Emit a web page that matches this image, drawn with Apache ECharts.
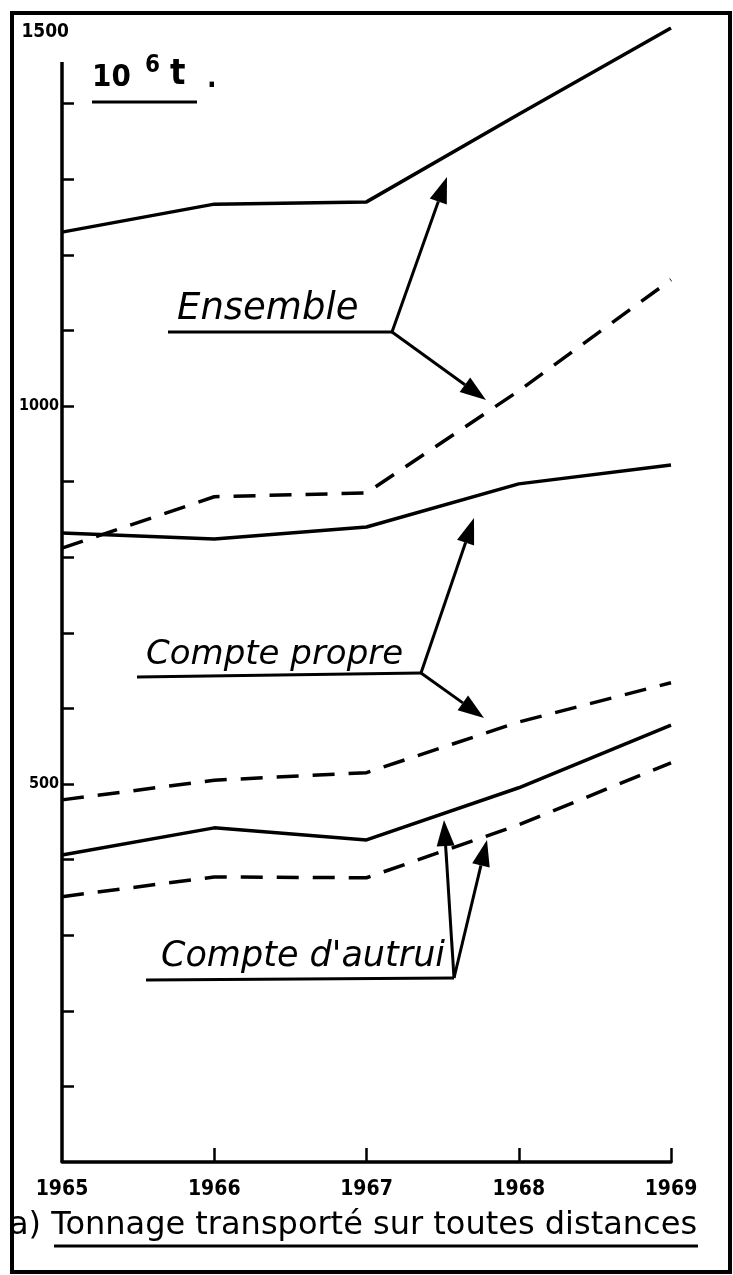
<!DOCTYPE html>
<html lang="fr">
<head>
    <meta charset="UTF-8">
    <title>Tonnage transporté sur toutes distances</title>
    <style>
        html, body { margin: 0; padding: 0; background: #fff; }
        #main { width: 733px; height: 1275px; }
    </style>
</head>
<body>
    <div id="main"></div>

    <script src="https://cdn.jsdelivr.net/npm/echarts@6.0.0/dist/echarts.min.js"></script>
    <script type="text/javascript">
        // données (10^6 t)
        var years = ['1965', '1966', '1967', '1968', '1969'];
        var ensembleSolid  = [1230, 1267, 1270, 1386, 1500];
        var ensembleDashed = [812, 880, 885, 1020, 1167];
        var propreSolid    = [832, 824, 840, 897, 922];
        var propreDashed   = [479, 505, 515, 582, 634];
        var autruiSolid    = [406, 442, 426, 495, 578];
        var autruiDashed   = [351, 377, 376, 446, 528];

        var yTicks  = [100, 200, 300, 400, 500, 600, 700, 800, 900, 1000, 1100, 1200, 1300, 1400];
        var yLabels = [500, 1000, 1500];

        var ink = '#000';
        var narrow = "'DejaVu Sans Condensed', 'DejaVu Sans', sans-serif";
        var hand = "'DejaVu Sans', sans-serif";

        // petite flèche pleine pour les annotations
        function arrow(x1, y1, x2, y2) {
            var a = Math.atan2(y2 - y1, x2 - x1);
            var L = 26, W = 9;
            var c = Math.cos(a), s = Math.sin(a);
            var bx = x2 - L * c, by = y2 - L * s;
            return [
                { type: 'line', shape: { x1: x1, y1: y1, x2: bx, y2: by }, style: { stroke: ink, lineWidth: 3 } },
                { type: 'polygon', shape: { points: [[x2, y2], [bx + W * s, by - W * c], [bx - W * s, by + W * c]] }, style: { fill: ink } }
            ];
        }

        function label(text, x, y, size) {
            return { type: 'text', x: x, y: y, style: { text: text, fill: ink, font: 'italic ' + size + 'px ' + hand, textVerticalAlign: 'bottom' } };
        }

        function underline(x1, y1, x2, y2) {
            return { type: 'line', shape: { x1: x1, y1: y1, x2: x2, y2: y2 }, style: { stroke: ink, lineWidth: 3 } };
        }

        function line(name, data, dashed) {
            return {
                name: name,
                type: 'line',
                data: data,
                symbol: 'none',
                lineStyle: { color: ink, width: 3.5, type: dashed ? [22, 14] : 'solid' }
            };
        }

        var graphics = [
            // cadre
            { type: 'rect', shape: { x: 12, y: 13, width: 718, height: 1259 }, style: { fill: null, stroke: ink, lineWidth: 4 } },
            // unité
            { type: 'text', x: 92, y: 93, style: { text: '10', fill: ink, font: 'bold 31px ' + narrow, textVerticalAlign: 'bottom' } },
            { type: 'text', x: 145, y: 78, style: { text: '6', fill: ink, font: 'bold 24px ' + narrow, textVerticalAlign: 'bottom' } },
            { type: 'text', x: 170, y: 93, style: { text: 't', fill: ink, font: 'bold 36px ' + narrow, textVerticalAlign: 'bottom' } },
            { type: 'text', x: 207, y: 94, style: { text: '.', fill: ink, font: 'bold 28px ' + narrow, textVerticalAlign: 'bottom' } },
            underline(92, 102, 197, 102),
            // légendes manuscrites
            label('Ensemble', 177, 328, 37),
            underline(168, 332, 392, 332),
            label('Compte propre', 146, 672, 34),
            underline(137, 677, 421, 673),
            label("Compte d'autrui", 161, 974, 35),
            underline(146, 980, 454, 978),
            // titre
            { type: 'text', x: 9, y: 1242, style: { text: 'a) Tonnage transporté sur toutes distances', fill: ink, font: '32px ' + hand, textVerticalAlign: 'bottom' } },
            underline(54, 1246, 698, 1246)
        ]
            .concat(arrow(392, 332, 447, 177))
            .concat(arrow(392, 332, 486, 400))
            .concat(arrow(421, 673, 474, 518))
            .concat(arrow(421, 673, 484, 718))
            .concat(arrow(454, 978, 444, 820))
            .concat(arrow(454, 978, 487, 840));

        var myChart = echarts.init(document.getElementById('main'));
        var option = {
            animation: false,
            backgroundColor: '#fff',
            grid: { left: 62, right: 62, top: 28, bottom: 113 },
            xAxis: {
                type: 'category',
                data: years,
                boundaryGap: false,
                axisLine: { lineStyle: { color: ink, width: 3.5 } },
                axisTick: {
                    inside: true,
                    length: 14,
                    interval: function (i) { return i > 0; },
                    lineStyle: { color: ink, width: 2.5 }
                },
                axisLabel: { color: ink, fontSize: 21, fontWeight: 'bold', fontFamily: narrow, margin: 17 }
            },
            yAxis: {
                type: 'value',
                min: 0,
                max: 1500,
                interval: 100,
                splitLine: { show: false },
                axisLine: { show: false },
                axisTick: {
                    show: true,
                    inside: true,
                    length: 12,
                    customValues: yTicks,
                    lineStyle: { color: ink, width: 2.5 }
                },
                axisLabel: {
                    customValues: yLabels,
                    color: ink,
                    fontSize: 16,
                    fontFamily: narrow,
                    margin: 3,
                    formatter: function (v) { return v === 1500 ? '{big|' + v + '}' : '{n|' + v + '}'; },
                    rich: {
                        n: { fontSize: 16, fontWeight: 'bold', fontFamily: narrow, color: ink },
                        big: { fontSize: 19, fontWeight: 'bold', fontFamily: narrow, color: ink, padding: [8, -10, 0, 0] }
                    }
                }
            },
            series: [
                Object.assign(line('Ensemble', ensembleSolid, false), {
                    // axe vertical tracé jusque sous le libellé 1500
                    markLine: {
                        silent: true,
                        symbol: 'none',
                        label: { show: false },
                        lineStyle: { color: ink, width: 3.5, type: 'solid' },
                        data: [[{ coord: [years[0], 0] }, { coord: [years[0], 1455] }]]
                    }
                }),
                line('Ensemble (tirets)', ensembleDashed, true),
                line('Compte propre', propreSolid, false),
                line('Compte propre (tirets)', propreDashed, true),
                line("Compte d'autrui", autruiSolid, false),
                line("Compte d'autrui (tirets)", autruiDashed, true)
            ],
            graphic: graphics
        };
        myChart.setOption(option);
    </script>
</body>
</html>
